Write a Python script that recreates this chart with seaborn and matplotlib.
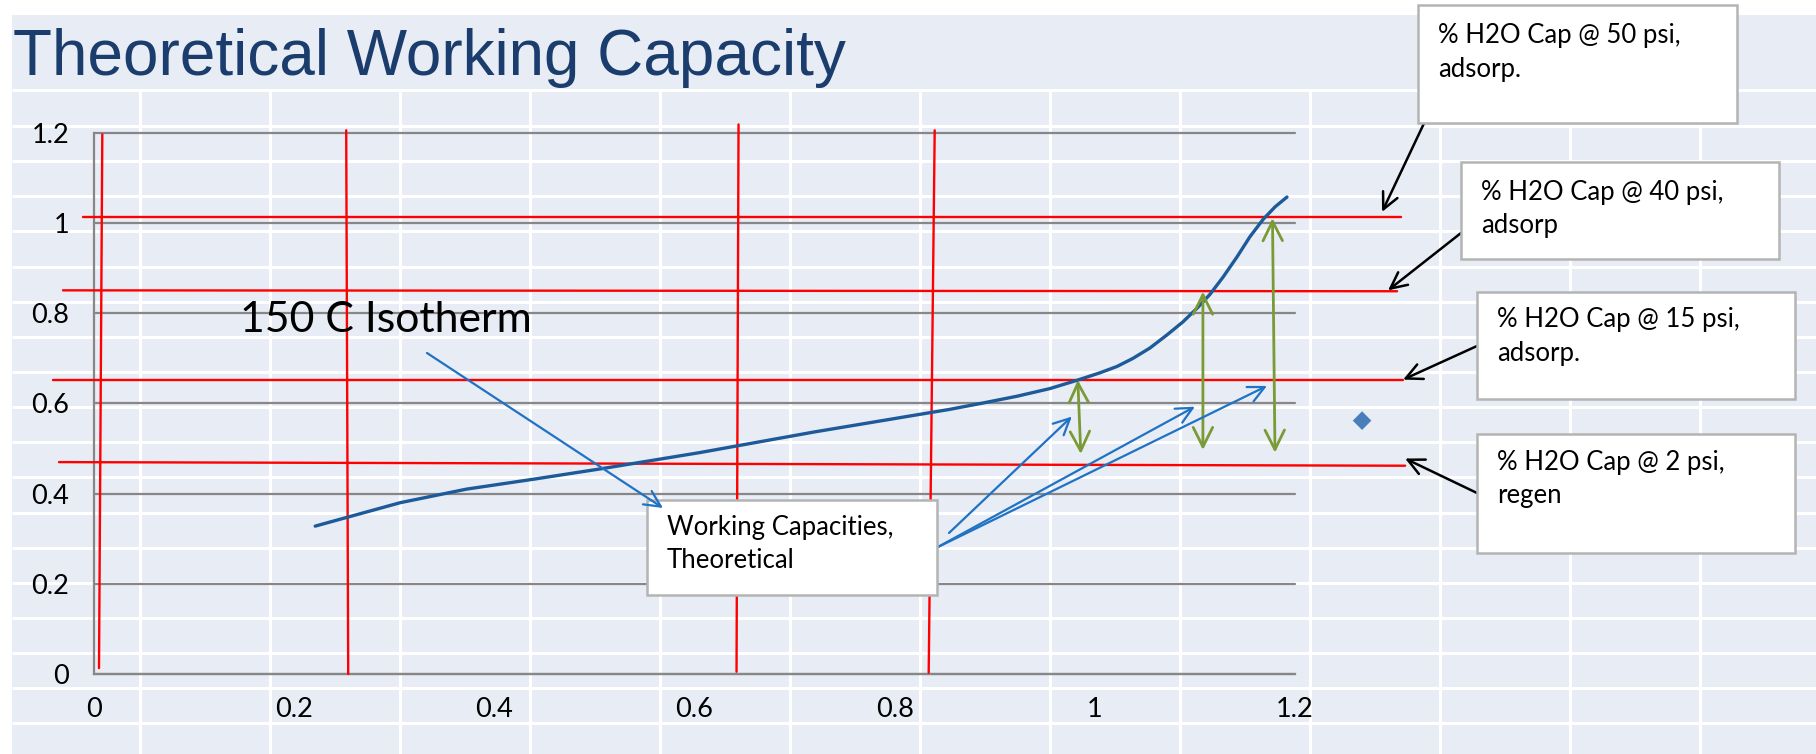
import numpy as np
import matplotlib
matplotlib.use("Agg")
import matplotlib.pyplot as plt
import matplotlib.transforms as mtransforms
from matplotlib.patches import Rectangle
import seaborn as sns

# ---------------- data ----------------
# 150 C isotherm (H2O capacity vs. pressure ratio)
iso_x = [0.221, 0.252, 0.306, 0.372, 0.439, 0.506, 0.605, 0.720, 0.855, 0.888,
         0.922, 0.955, 0.983, 1.005, 1.022, 1.038, 1.055, 1.072, 1.088, 1.102,
         1.115, 1.128, 1.142, 1.155, 1.168, 1.180, 1.192]
iso_y = [0.328, 0.347, 0.380, 0.410, 0.432, 0.455, 0.491, 0.537, 0.587, 0.601,
         0.616, 0.633, 0.652, 0.668, 0.682, 0.700, 0.723, 0.752, 0.781, 0.811,
         0.842, 0.880, 0.925, 0.970, 1.008, 1.036, 1.058]

# capacity levels (red horizontal guides)
cap_labels = [("% H2O Cap @ 50 psi,", "adsorp."),
              ("% H2O Cap @ 40 psi,", "adsorp"),
              ("% H2O Cap @ 15 psi,", "adsorp."),
              ("% H2O Cap @ 2 psi,", "regen")]
cap_x_left = [-0.011, -0.031, -0.041, -0.035]
cap_x_right = [1.306, 1.302, 1.308, 1.310]
cap_y_left = [1.013, 0.851, 0.653, 0.470]
cap_y_right = [1.013, 0.849, 0.653, 0.462]
cap_pointer_x = [1.287, 1.293, 1.308, 1.310]
cap_pointer_y = [1.025, 0.851, 0.653, 0.478]

# pressure guides (red vertical lines)
guide_x_top = [0.0083, 0.252, 0.644, 0.840]
guide_x_bottom = [0.005, 0.254, 0.642, 0.834]
guide_y_top = [1.197, 1.206, 1.219, 1.206]
guide_y_bottom = [0.013, 0.000, 0.005, 0.003]

# theoretical working capacities (green double arrows)
wc_x_top = [0.983, 1.108, 1.1775]
wc_x_bottom = [0.986, 1.108, 1.180]
wc_y_top = [0.652, 0.848, 1.011]
wc_y_bottom = [0.488, 0.497, 0.491]
wc_pointer_x = [0.977, 1.100, 1.172]
wc_pointer_y = [0.571, 0.593, 0.639]

# single measured point
point_x = [1.267]
point_y = [0.562]

tick_values = [0, 0.2, 0.4, 0.6, 0.8, 1.0, 1.2]
tick_labels = ["0", "0.2", "0.4", "0.6", "0.8", "1", "1.2"]

title_text = "Theoretical Working Capacity"
isotherm_label = "150 C Isotherm"
wc_label = ("Working Capacities,", "Theoretical")

# ---------------- style ----------------
sns.set_theme(style="white")
plt.rcParams["font.family"] = ["Lato", "DejaVu Sans"]

W, H = 1816, 754
fig = plt.figure(figsize=(W / 100, H / 100), dpi=100)
fig.patch.set_facecolor("white")

# pixel transform (origin top-left) for layout items
PX = mtransforms.Affine2D().scale(1, -1).translate(0, H)

# worksheet backdrop
bg = fig.add_axes([0, 0, 1, 1], zorder=0)
bg.set_xlim(0, W)
bg.set_ylim(H, 0)
bg.axis("off")
bg.add_patch(Rectangle((12, 15), W - 12, H - 15, facecolor="#E8ECF4", edgecolor="none"))
row_lines = [89.5] + list(126 + 35.14 * np.arange(0, 18))
for yy in row_lines:
    bg.plot([12, W], [yy, yy], color="white", lw=2.2, solid_capstyle="butt")
for xx in 140 + 130 * np.arange(0, 13):
    bg.plot([xx, xx], [89.5, H], color="white", lw=2.2, solid_capstyle="butt")

# chart axes
ax = fig.add_axes([94 / W, (H - 674) / H, 1201 / W, 541 / H], zorder=1)
ax.set_facecolor("none")
ax.set_xlim(0, 1.2)
ax.set_ylim(0, 1.2)
grid_gray = "#878787"
for side in ["top", "right"]:
    ax.spines[side].set_visible(False)
for side in ["left", "bottom"]:
    ax.spines[side].set_color(grid_gray)
    ax.spines[side].set_linewidth(1.6)
ax.set_xticks(tick_values, labels=tick_labels)
ax.set_yticks(tick_values, labels=tick_labels)
ax.tick_params(axis="both", direction="out", length=5.8, width=1.5, color=grid_gray,
               labelsize=19.5, labelcolor="black")
ax.tick_params(axis="x", pad=11)
ax.tick_params(axis="y", pad=12)
ax.yaxis.grid(True, color=grid_gray, lw=1.6)
ax.xaxis.grid(False)
ax.set_axisbelow(True)
for gl in ax.get_ygridlines():
    gl.set_clip_on(False)

red = "#FF0000"
for xl, xr, yl, yr in zip(cap_x_left, cap_x_right, cap_y_left, cap_y_right):
    ax.plot([xl, xr], [yl, yr], color=red, lw=1.7, clip_on=False, zorder=3)
for xt, xb, yt, yb in zip(guide_x_top, guide_x_bottom, guide_y_top, guide_y_bottom):
    ax.plot([xt, xb], [yt, yb], color=red, lw=1.7, clip_on=False, zorder=3)

# isotherm curve
sns.lineplot(x=iso_x, y=iso_y, sort=False, color="#1C5A9A", lw=2.4, ax=ax, zorder=4)
ax.lines[-1].set_solid_joinstyle("round")
ax.lines[-1].set_solid_capstyle("round")

# measured point
sns.scatterplot(x=point_x, y=point_y, marker="D", s=90, color="#4A7EBB",
                edgecolor="none", ax=ax, zorder=4)
ax.collections[-1].set_clip_on(False)

# working capacity spans
green = "#7A9A36"
for xt, xb, yt, yb in zip(wc_x_top, wc_x_bottom, wc_y_top, wc_y_bottom):
    ax.annotate("", xy=(xt, yt), xytext=(xb, yb), annotation_clip=False,
                arrowprops=dict(arrowstyle="<->,head_length=0.5,head_width=0.25",
                                color=green, lw=2.0, shrinkA=0, shrinkB=0,
                                mutation_scale=28), zorder=5)

# callout boxes
box_edge = "#B4B4B4"
def callout_box(x0, y0, x1, y1, lines, tx, ty, size=18.5, dy=33.5):
    ax.add_patch(Rectangle((x0, y1), x1 - x0, -(y1 - y0), transform=PX,
                           facecolor="white", edgecolor=box_edge, lw=1.8,
                           clip_on=False, zorder=10))
    for i, ln in enumerate(lines):
        ax.text(tx, ty + i * dy, ln, transform=PX, fontsize=size, color="black",
                va="baseline", ha="left", clip_on=False, zorder=11)

box_frames = [(1418, 5, 1737, 123), (1461, 162, 1779, 259),
              (1477, 292, 1795, 399), (1477, 434, 1795, 553)]
text_origin = [(1438, 43), (1481, 200), (1497, 327), (1497, 470)]
arrow_tails = [(1427, 117), (1461, 233), (1477, 346), (1477, 493)]
for frame, org, lines in zip(box_frames, text_origin, cap_labels):
    callout_box(*frame, lines, *org)
for tail, px_, py_ in zip(arrow_tails, cap_pointer_x, cap_pointer_y):
    ax.annotate("", xy=(px_, py_), xycoords="data", xytext=tail, textcoords=PX,
                annotation_clip=False,
                arrowprops=dict(arrowstyle="->,head_length=0.45,head_width=0.22",
                                color="black", lw=1.8, shrinkA=0, shrinkB=0,
                                mutation_scale=26), zorder=9)

callout_box(647, 500, 937, 595, wc_label, 667, 535)

# isotherm label and pointer to the working-capacity box
ax.text(240, 332, isotherm_label, transform=PX, fontsize=30.8, color="black",
        va="baseline", ha="left", clip_on=False, zorder=8)
blue = "#1F72C4"
blue_style = dict(arrowstyle="->,head_length=0.45,head_width=0.22", color=blue,
                  lw=1.6, shrinkA=0, shrinkB=0, mutation_scale=26)
ax.annotate("", xy=(663, 508), xycoords=PX, xytext=(427, 353), textcoords=PX,
            annotation_clip=False, arrowprops=blue_style, zorder=12)
blue_tails = [(949, 533), (936, 548), (936, 548)]
for tail, px_, py_ in zip(blue_tails, wc_pointer_x, wc_pointer_y):
    ax.annotate("", xy=(px_, py_), xycoords="data", xytext=tail, textcoords=PX,
                annotation_clip=False, arrowprops=blue_style, zorder=6)

# slide title
fig.text(13, H - 75, title_text, transform=mtransforms.IdentityTransform(),
         fontsize=46, color="#1A3D6D", family=["Liberation Sans", "DejaVu Sans"],
         va="baseline", ha="left")

fig.savefig("out.png", dpi=100, facecolor=fig.get_facecolor())
